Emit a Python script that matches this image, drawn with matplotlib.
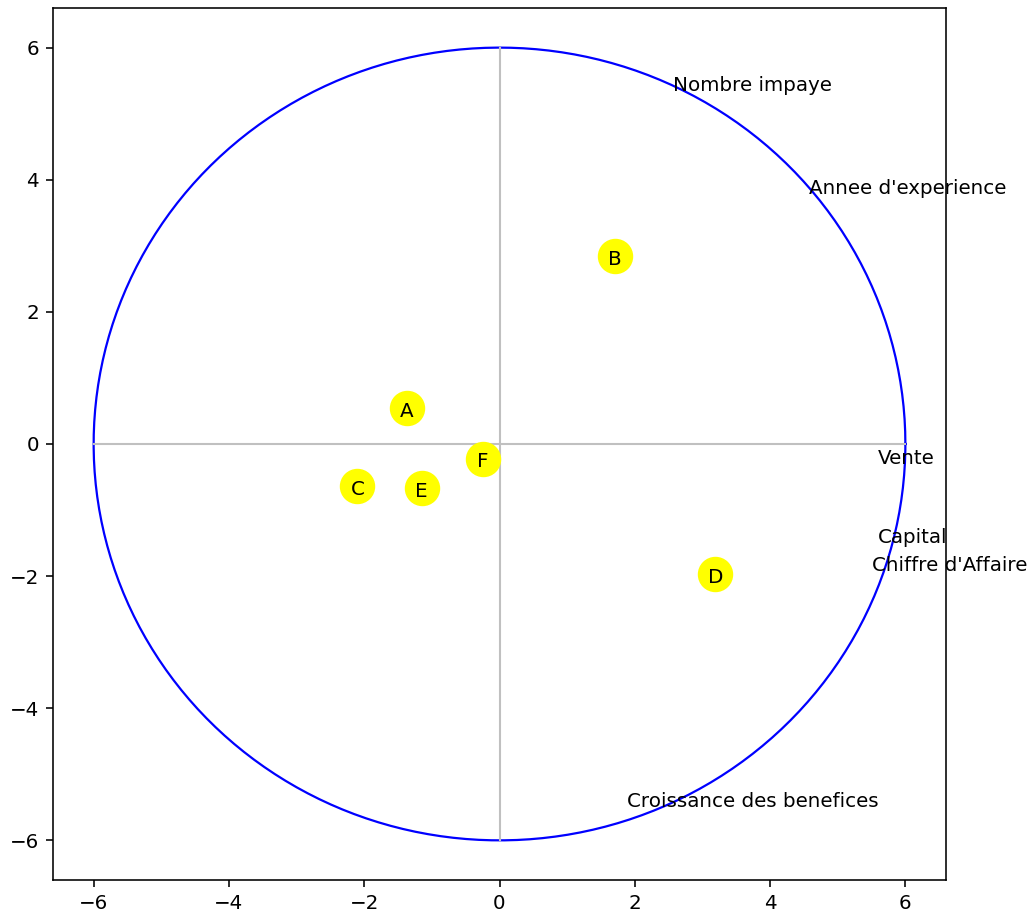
import numpy as np
import matplotlib
matplotlib.use("Agg")
import matplotlib.pyplot as plt

# individus (coordonnees factorielles)
individus = ["A", "B", "C", "D", "E", "F"]
ind_x = [-1.37, 1.70, -2.10, 3.19, -1.15, -0.25]
ind_y = [0.55, 2.85, -0.64, -1.97, -0.66, -0.22]

# variables (correlations x rayon du cercle)
variables = ["Nombre impaye", "Annee d'experience", "Vente", "Capital",
             "Chiffre d'Affaire", "Croissance des benefices"]
var_x = [2.57, 4.57, 5.59, 5.60, 5.51, 1.88]
var_y = [5.35, 3.79, -0.31, -1.50, -1.93, -5.50]

rayon = 6

plt.rcParams['font.size'] = 14.3
plt.rcParams['axes.linewidth'] = 1.15
plt.rcParams['xtick.major.width'] = 1.15
plt.rcParams['ytick.major.width'] = 1.15
plt.rcParams['xtick.major.size'] = 5
plt.rcParams['ytick.major.size'] = 5
plt.rcParams['xtick.major.pad'] = 5
plt.rcParams['ytick.major.pad'] = 5

fig = plt.figure(figsize=(10.36, 9.16), dpi=100)
ax = fig.add_axes([0.0512, 0.0393, 0.8619, 0.952])

t = np.linspace(0, 2 * np.pi, 400)
ax.plot(rayon * np.cos(t), rayon * np.sin(t), color='blue', lw=1.6)
ax.plot([-rayon, rayon], [0, 0], color='silver', lw=1.5)
ax.plot([0, 0], [-rayon, rayon], color='silver', lw=1.5)

ax.scatter(ind_x, ind_y, s=600, color='yellow', zorder=3)
for nom, x, y in zip(individus, ind_x, ind_y):
    # la lettre tombe un peu sous le centre du disque
    ax.annotate(nom, (x, y), xytext=(0, -2.5), textcoords='offset points',
                ha='center', va='center', zorder=4)

for nom, x, y in zip(variables, var_x, var_y):
    ax.text(x, y, nom, clip_on=False)

ax.set_xlim(-6.6, 6.6)
ax.set_ylim(-6.6, 6.6)
ax.set_xticks([-6, -4, -2, 0, 2, 4, 6])
ax.set_yticks([-6, -4, -2, 0, 2, 4, 6])

fig.savefig("out.png", dpi=100)
